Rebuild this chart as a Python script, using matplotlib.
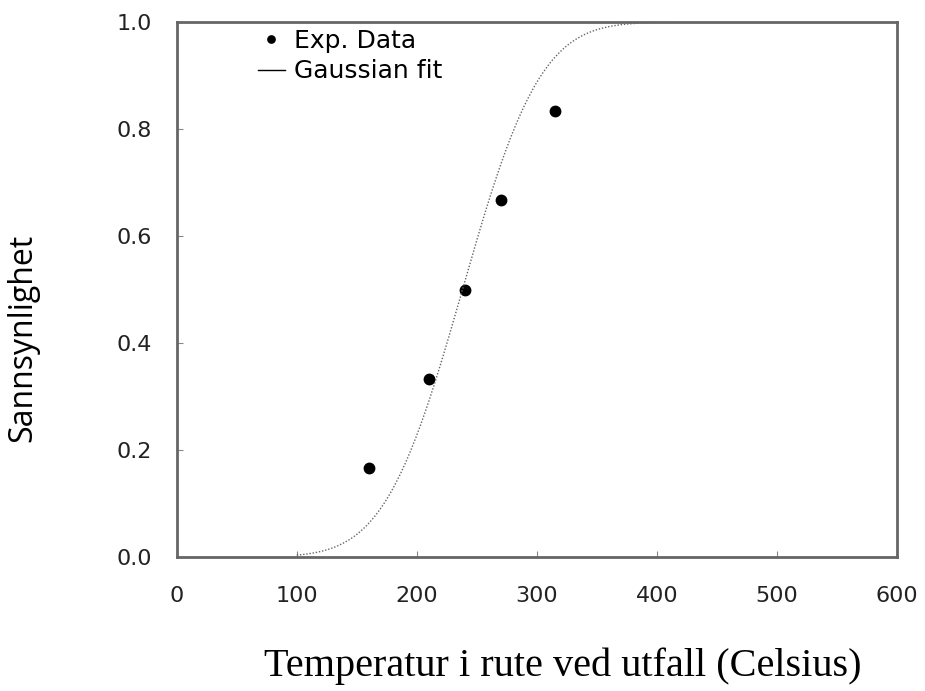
import math
import numpy as np
import matplotlib.pyplot as plt

# experimental points
temp = [160, 210, 240, 270, 315]
prob = [0.167, 0.333, 0.5, 0.667, 0.833]

# fitted normal CDF parameters
mu = 238
sigma = 51

x_ticks = [0, 100, 200, 300, 400, 500, 600]
y_ticks = [0.0, 0.2, 0.4, 0.6, 0.8, 1.0]

xfit = np.linspace(100, 600, 400)
yfit = [0.5 * (1 + math.erf((v - mu) / (sigma * math.sqrt(2)))) for v in xfit]

fig = plt.figure(figsize=(9.25, 6.91), dpi=100)
ax = fig.add_axes([0.191, 0.194, 0.779, 0.774])

ax.plot(temp, prob, 'o', color='black', markersize=7.5, label='Exp. Data')
ax.plot(xfit, yfit, linestyle=(0, (1, 1.3)), color='#666666', linewidth=1.0, label='Gaussian fit')

ax.set_xlim(0, 600)
ax.set_ylim(0, 1)
ax.set_xticks(x_ticks)
ax.set_yticks(y_ticks)
ax.set_xticklabels([str(t) for t in x_ticks])
ax.set_yticklabels(['%.1f' % t for t in y_ticks])
ax.tick_params(direction='in', length=4, color='#888888', labelsize=16, labelcolor='#222222')
ax.tick_params(axis='x', pad=21)
ax.tick_params(axis='y', pad=18)
for s in ax.spines.values():
    s.set_color('#666666')
    s.set_linewidth(2)

ax.set_ylabel('Sannsynlighet', fontsize=23, family='Open Sans')
ax.yaxis.set_label_coords(-0.19, 0.41)
ax.set_xlabel('Temperatur i rute ved utfall (Celsius)', fontsize=29, family='Liberation Serif')
ax.xaxis.set_label_coords(0.536, -0.17)

leg = ax.legend(loc='upper left', bbox_to_anchor=(0.1125, 0.987), frameon=False, fontsize=18,
                borderaxespad=0, borderpad=0, handlelength=1.1, handletextpad=0.35,
                labelspacing=0.25, markerscale=0.7)
# legend shows the fit as a plain solid line
leg.get_lines()[1].set_linestyle('-')
leg.get_lines()[1].set_color('black')

plt.savefig('out.png', dpi=100)
